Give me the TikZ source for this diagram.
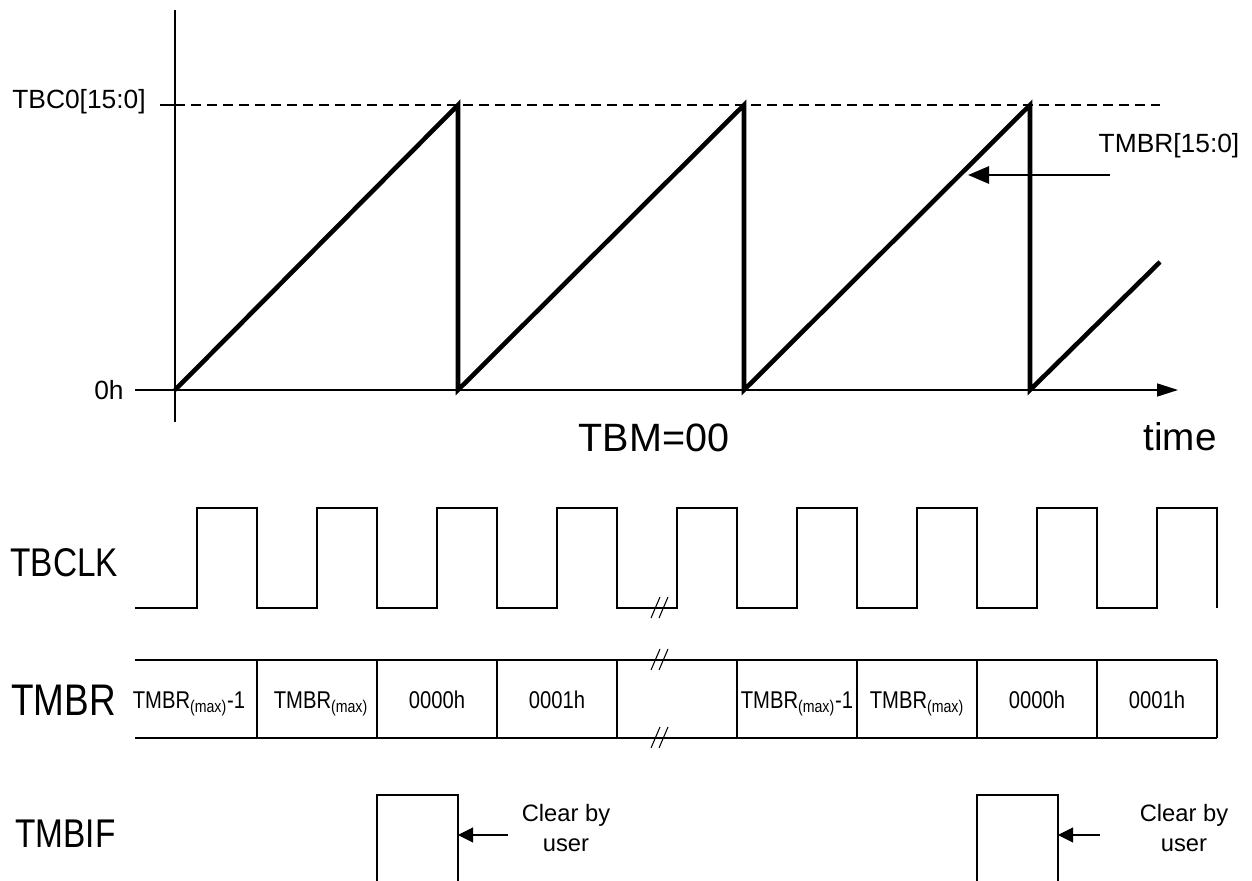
\documentclass[tikz,border=0pt]{standalone}
\usepackage{fontspec}
\setmainfont{Liberation Sans}
\usetikzlibrary{arrows.meta}
\newcommand{\tall}[1]{\scalebox{1}[1.2]{#1}}

\begin{document}
\begin{tikzpicture}[%
  x = 0.02cm, y = -0.02cm,
  lbl/.style = {inner sep = 0pt, font = \fontsize{#1}{#1}\selectfont},
  note/.style = {inner sep = 0pt, align = center, font = \fontsize{13.5}{17}\selectfont},
  axis/.style = {line width = 0.9pt},
  ramp/.style = {line width = 2.6pt},
  sig/.style = {line width = 0.6pt},
  bigtip/.style = {-{Triangle[length = 0.42cm, width = 0.26cm]}},
  smalltip/.style = {-{Triangle[length = 0.3cm, width = 0.3cm]}}]
  \useasboundingbox (0,0) rectangle (1252,881);

  % counter
  \node[lbl = 15, anchor = east] (tbc) at (146,102) {TBC0[15:0]};
  \node[lbl = 15, anchor = east] (zero) at (124,390) {0h};
  \coordinate (top) at (175,10);
  \coordinate (bot) at (175,422);
  \coordinate (start) at (135,390);
  \coordinate (tend) at (1178,390);
  \draw[axis] (top) -- (bot);
  \draw[axis, bigtip] (start) -- (tend);
  \draw[axis] (160,105) -- (175,105);
  \draw[axis, dash pattern = on 0.2cm off 0.12cm] (175,105) -- (1160,105);
  \draw[ramp] (175,390) -- (458,105) -- (458,390) -- (744,105) -- (744,390)
    -- (1030,105) -- (1030,390) -- (1160,262);

  \node[lbl = 15] (cnt) at (1169,146) {TMBR[15:0]};
  \coordinate (cs) at (1110,175);
  \coordinate (ce) at (968,175);
  \draw[line width = 1.6pt, -{Triangle[length = 0.42cm, width = 0.34cm]}] (cs) -- (ce);

  \node[lbl = 22.5] (mode) at (654,438) {TBM=00};
  \node[lbl = 22] (time) at (1180,437) {time};

  % clock
  \node[lbl = 19, anchor = west] (clk) at (10,563) {\tall{TBCLK}};
  \draw[sig] (135,608) \foreach \r in {197,317,...,1157} {
    -- (\r,608) -- (\r,508) -- ({\r+60},508) -- ({\r+60},608)};

  % bus
  \node[lbl = 21, anchor = west] (bus) at (11,700) {\tall{TMBR}};
  \draw[sig] (135,660) -- (1217,660);
  \draw[sig] (135,738) -- (1217,738);
  \foreach \x in {257,377,...,1217}
    \draw[sig] (\x,660) -- (\x,738);
  \foreach \x/\v [count = \i] in {%
      189/TMBR\textsubscript{(max)}-1, 321/TMBR\textsubscript{(max)},
      437/0000h, 557/0001h,
      797/TMBR\textsubscript{(max)}-1, 917/TMBR\textsubscript{(max)},
      1037/0000h, 1157/0001h}
    \node[lbl = 11.5, anchor = base] (v\i) at (\x,709) {\tall{\v}};

  % breaks
  \foreach \y in {608,660,738}
    \foreach \dx in {0,8}
      \draw[sig] ({651+\dx},{\y+10}) -- ({660+\dx},{\y-11});

  % flag
  \node[lbl = 19, anchor = west] (flag) at (15,834) {\tall{TMBIF}};
  \draw[sig] (377,881) -- (377,795) -- (458,795) -- (458,881);
  \draw[sig] (977,881) -- (977,795) -- (1058,795) -- (1058,881);
  \node[note] (clr1) at (566,828) {Clear by\\user};
  \node[note] (clr2) at (1184,828) {Clear by\\user};
  \coordinate (a1) at (508,835);
  \coordinate (b1) at (458,835);
  \coordinate (a2) at (1100,835);
  \coordinate (b2) at (1058,835);
  \draw[sig, smalltip] (a1) -- (b1);
  \draw[sig, smalltip] (a2) -- (b2);
\end{tikzpicture}
\end{document}
